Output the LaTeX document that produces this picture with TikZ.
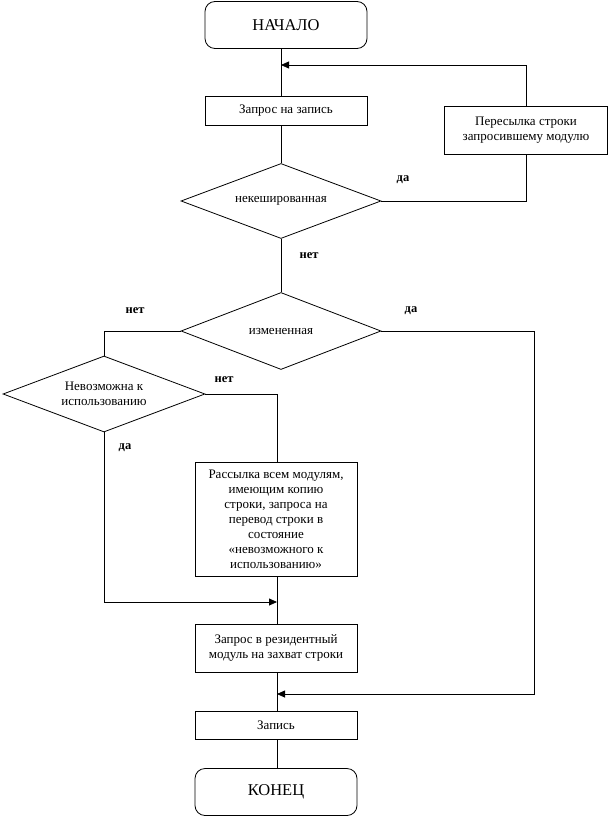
\documentclass[tikz,border=0pt]{standalone}
\usepackage{fontspec}
\setmainfont{Liberation Serif}
\usetikzlibrary{positioning, shapes.geometric, arrows.meta}

\tikzset{
  term/.style={draw, rounded corners=10pt, minimum width=162pt, minimum height=47pt, font=\fontsize{16.5}{18}\selectfont},
  proc/.style={draw, minimum width=162pt, inner sep=1pt, align=center, font=\fontsize{13}{15}\selectfont},
  cond/.style={draw, diamond, aspect=2.7, inner sep=0pt, align=center, font=\fontsize{13}{15}\selectfont},
  ans/.style={font=\bfseries\fontsize{12.5}{14}\selectfont},
  arr/.style={-{Triangle[length=8pt,width=7pt]}}
}

\begin{document}
\begin{tikzpicture}[x=1pt, y=-1pt, line width=0.8pt]
  \useasboundingbox (0,0) rectangle (610,818);
  \node[term] (start) at (286,25) {НАЧАЛО};
  \node[proc, minimum height=29pt] (req) at (286,110.5) {Запрос на запись};
  \node[proc, minimum width=163pt, minimum height=48pt] (fwd) at (526,130) {Пересылка строки\\запросившему модулю};
  \node[cond, minimum width=200pt, minimum height=75pt] (d1) at (281,201) {некешированная};
  \node[cond, minimum width=200pt, minimum height=77pt] (d2) at (281,331) {измененная};
  \node[cond, minimum width=202pt, minimum height=76pt] (d3) at (104,394) {Невозможна к\\использованию};
  \node[proc, minimum height=114pt] (bcast) at (276,519) {Рассылка всем модулям,\\имеющим копию\\строки, запроса на\\перевод строки в\\состояние\\«невозможного к\\использованию»};
  \node[proc, minimum height=48pt] (res) at (276,648) {Запрос в резидентный\\модуль на захват строки};
  \node[proc, minimum height=28pt] (write) at (276,725) {Запись};
  \node[term] (stop) at (276,792) {КОНЕЦ};
  % labels
  \node[ans] (y1) at (403,180) {да};
  \node[ans] (n1) at (309,256) {нет};
  \node[ans] (n2) at (135,311) {нет};
  \node[ans] (y2) at (411,311) {да};
  \node[ans] (n3) at (224,380) {нет};
  \node[ans] (y3) at (125,448) {да};
  % junctions
  \coordinate (j1) at (281,65);
  \coordinate (j2) at (277,602);
  \coordinate (j3) at (277,694);
  \coordinate (rt) at (534,694);
  % lines
  \draw (start.south -| d1.north) -- (req.north -| d1.north);
  \draw (req.south -| d1.north) -- (d1.north);
  \draw (d1.east) -| (fwd.south);
  \draw[arr] (fwd.north) |- (j1);
  \draw (d1.south) -- (d2.north);
  \draw (d2.west) -| (d3.north);
  \draw (d3.east) -| (bcast.north -| j2);
  \draw[arr] (d3.south) |- (j2);
  \draw (bcast.south -| j2) -- (res.north -| j2);
  \draw[arr] (d2.east) -| (rt) -- (j3);
  \draw (res.south -| j3) -- (write.north -| j3);
  \draw (write.south -| j3) -- (stop.north -| j3);
\end{tikzpicture}
\end{document}
